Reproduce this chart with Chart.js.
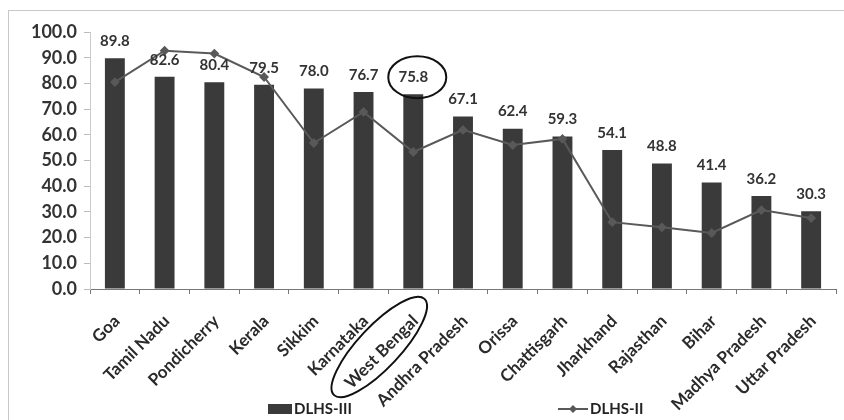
<!DOCTYPE html>
<html>
<head>
<meta charset="utf-8">
<script src="https://cdn.jsdelivr.net/npm/chart.js@4.4.1/dist/chart.umd.min.js"></script>
<style>
  html, body { margin: 0; padding: 0; background: #fff; }
  #wrap { width: 844px; height: 420px; }
</style>
</head>
<body>
<div id="wrap"><canvas id="chart"></canvas></div>
<script>
const states = ['Goa', 'Tamil Nadu', 'Pondicherry', 'Kerala', 'Sikkim', 'Karnataka', 'West Bengal',
    'Andhra Pradesh', 'Orissa', 'Chattisgarh', 'Jharkhand', 'Rajasthan', 'Bihar', 'Madhya Pradesh', 'Uttar Pradesh'];
const dlhs3 = [89.8, 82.6, 80.4, 79.5, 78.0, 76.7, 75.8, 67.1, 62.4, 59.3, 54.1, 48.8, 41.4, 36.2, 30.3];
const dlhs2 = [80.5, 92.7, 91.6, 82.5, 56.8, 68.9, 53.3, 61.9, 56.0, 58.4, 26.0, 24.0, 21.8, 30.7, 27.6];
const highlight = 'West Bengal';

const FONT = 'Lato, "Open Sans", sans-serif';

// value labels, circled annotations, legend and frame
const extras = {
    id: 'extras',
    afterDatasetsDraw(chart) {
        const ctx = chart.ctx;
        const area = chart.chartArea;
        const bars = chart.getDatasetMeta(0).data;
        ctx.save();

        // frame
        ctx.strokeStyle = '#c8c8c8';
        ctx.lineWidth = 1;
        ctx.strokeRect(8.5, 10.5, 860, 420);

        ctx.fillStyle = '#333';
        ctx.font = 'bold 15px ' + FONT;
        ctx.textAlign = 'center';
        ctx.textBaseline = 'middle';
        bars.forEach((b, i) => {
            ctx.fillText(dlhs3[i].toFixed(1), b.x, b.y - 17);
        });

        // circles around West Bengal
        const hi = states.indexOf(highlight);
        const hb = bars[hi];
        ctx.strokeStyle = '#111';
        ctx.lineWidth = 2;
        ctx.beginPath();
        ctx.ellipse(hb.x + 4, hb.y - 17, 29, 21, 0, 0, Math.PI * 2);
        ctx.stroke();

        const tx = chart.scales.x.getPixelForValue(hi);
        ctx.beginPath();
        ctx.ellipse(tx - 34, area.bottom + 58, 66, 21, -Math.PI * 0.26, 0, Math.PI * 2);
        ctx.stroke();

        // legend
        const ly = 409;
        ctx.font = 'bold 15px ' + FONT;
        ctx.textAlign = 'left';
        ctx.fillStyle = '#3a3a3a';
        ctx.fillRect(268, ly - 5, 24, 10);
        ctx.fillStyle = '#222';
        ctx.fillText(chart.data.datasets[0].label, 294, ly);

        ctx.strokeStyle = '#595959';
        ctx.lineWidth = 2;
        ctx.beginPath();
        ctx.moveTo(558, ly);
        ctx.lineTo(588, ly);
        ctx.stroke();
        ctx.fillStyle = '#595959';
        ctx.beginPath();
        ctx.moveTo(573, ly - 4);
        ctx.lineTo(577, ly);
        ctx.lineTo(573, ly + 4);
        ctx.lineTo(569, ly);
        ctx.closePath();
        ctx.fill();
        ctx.fillStyle = '#222';
        ctx.fillText(chart.data.datasets[1].label, 590, ly);

        ctx.restore();
    }
};

new Chart(document.getElementById('chart'), {
    type: 'bar',
    data: {
        labels: states,
        datasets: [{
            type: 'bar',
            label: 'DLHS-III',
            data: dlhs3,
            backgroundColor: '#3a3a3a',
            barPercentage: 0.4,
            categoryPercentage: 1.0,
            order: 2
        }, {
            type: 'line',
            label: 'DLHS-II',
            data: dlhs2,
            borderColor: '#595959',
            backgroundColor: '#595959',
            borderWidth: 2,
            tension: 0,
            pointStyle: 'rectRot',
            pointRadius: 3.5,
            order: 1
        }]
    },
    options: {
        responsive: true,
        maintainAspectRatio: false,
        animation: false,
        layout: { padding: { left: 8, right: 8, top: 32, bottom: 0 } },
        plugins: {
            legend: { display: false },
            tooltip: { enabled: false }
        },
        scales: {
            x: {
                afterFit: (s) => { s.height = 131; },
                grid: {
                    display: true,
                    drawOnChartArea: false,
                    drawTicks: true,
                    tickLength: 5,
                    color: '#777'
                },
                border: { color: '#777', width: 1 },
                ticks: {
                    color: '#2a2a2a',
                    font: { family: FONT, size: 17, weight: 'bold' },
                    maxRotation: 45,
                    minRotation: 45,
                    autoSkip: false,
                    padding: 17,
                    labelOffset: 2
                }
            },
            y: {
                min: 0,
                max: 100,
                afterFit: (s) => { s.width = 82; },
                grid: {
                    display: true,
                    drawOnChartArea: false,
                    drawTicks: true,
                    tickLength: 6,
                    color: '#bbb'
                },
                border: { color: '#ccc', width: 1 },
                ticks: {
                    stepSize: 10,
                    color: '#333',
                    padding: 7,
                    font: { family: FONT, size: 18, weight: 'bold' },
                    callback: (v) => Number(v).toFixed(1)
                }
            }
        }
    },
    plugins: [extras]
});
</script>
</body>
</html>
